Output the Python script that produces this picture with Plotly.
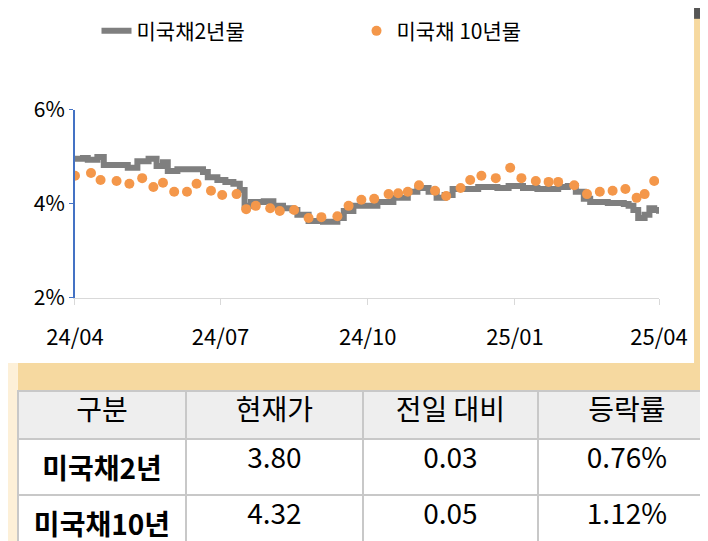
import plotly.graph_objects as go

# 미국채 2년물 (line)
y2_dates = ["2024-04-01", "2024-04-06", "2024-04-09", "2024-04-15", "2024-04-19", "2024-04-25",
            "2024-05-01", "2024-05-04", "2024-05-10", "2024-05-17", "2024-05-22", "2024-05-26",
            "2024-05-29", "2024-06-04", "2024-06-17", "2024-06-20", "2024-06-23", "2024-06-29",
            "2024-07-04", "2024-07-09", "2024-07-13", "2024-07-16", "2024-07-20", "2024-07-28",
            "2024-08-03", "2024-08-09", "2024-08-15", "2024-08-18", "2024-08-25", "2024-09-03",
            "2024-09-09", "2024-09-12", "2024-09-16", "2024-09-22", "2024-10-01", "2024-10-07",
            "2024-10-17", "2024-10-26", "2024-11-01", "2024-11-08", "2024-11-13", "2024-11-18",
            "2024-11-23", "2024-12-03", "2024-12-09", "2024-12-15", "2024-12-21", "2024-12-28",
            "2025-01-06", "2025-01-15", "2025-01-22", "2025-01-28", "2025-02-03", "2025-02-08",
            "2025-02-13", "2025-02-17", "2025-02-22", "2025-02-28", "2025-03-05", "2025-03-10",
            "2025-03-13", "2025-03-16", "2025-03-19", "2025-03-23", "2025-03-26", "2025-03-29",
            "2025-04-01"]
y2_vals = [4.96, 4.98, 4.94, 5.00, 4.83, 4.83, 4.83, 4.77, 4.91, 4.96, 4.81, 4.89,
           4.70, 4.74, 4.74, 4.68, 4.57, 4.51, 4.47, 4.43, 4.30, 3.96, 4.04, 4.06,
           3.96, 3.91, 3.87, 3.77, 3.64, 3.62, 3.62, 3.70, 3.85, 3.96, 3.96, 4.04,
           4.13, 4.26, 4.34, 4.26, 4.13, 4.19, 4.32, 4.32, 4.36, 4.36, 4.34, 4.38,
           4.34, 4.32, 4.32, 4.36, 4.38, 4.26, 4.11, 4.04, 4.04, 4.02, 4.02, 4.00,
           3.96, 3.87, 3.70, 3.77, 3.91, 3.87, 3.79]

# 미국채 10년물 (dots)
y10_dates = ["2024-04-01", "2024-04-11", "2024-04-17", "2024-04-27", "2024-05-05", "2024-05-13",
             "2024-05-20", "2024-05-26", "2024-06-02", "2024-06-10", "2024-06-16", "2024-06-25",
             "2024-07-02", "2024-07-11", "2024-07-17", "2024-07-23", "2024-08-01", "2024-08-07",
             "2024-08-16", "2024-08-25", "2024-09-02", "2024-09-12", "2024-09-19", "2024-09-27",
             "2024-10-05", "2024-10-14", "2024-10-20", "2024-10-26", "2024-11-02", "2024-11-12",
             "2024-11-19", "2024-11-28", "2024-12-04", "2024-12-11", "2024-12-20", "2024-12-29",
             "2025-01-05", "2025-01-14", "2025-01-22", "2025-01-28", "2025-02-07", "2025-02-15",
             "2025-02-23", "2025-03-03", "2025-03-11", "2025-03-18", "2025-03-23", "2025-03-29"]
y10_vals = [4.60, 4.66, 4.51, 4.49, 4.43, 4.55, 4.36, 4.45, 4.26, 4.26, 4.43, 4.28,
            4.19, 4.21, 3.89, 3.96, 3.91, 3.85, 3.87, 3.70, 3.72, 3.74, 3.96, 4.09,
            4.11, 4.21, 4.23, 4.26, 4.40, 4.28, 4.17, 4.34, 4.51, 4.60, 4.55, 4.77,
            4.55, 4.49, 4.47, 4.47, 4.40, 4.21, 4.26, 4.28, 4.32, 4.13, 4.21, 4.49]

tick_dates = ["2024-04-01", "2024-07-01", "2024-10-01", "2025-01-01", "2025-04-01"]
tick_labels = ["24/04", "24/07", "24/10", "25/01", "25/04"]

table_header = ["구분", "현재가", "전일 대비", "등락률"]
table_names = ["미국채2년", "미국채10년"]
table_price = ["3.80", "4.32"]
table_change = ["0.03", "0.05"]
table_rate = ["0.76%", "1.12%"]

FONT = "Noto Sans CJK KR"

fig = go.Figure()
fig.add_trace(go.Scatter(x=y2_dates, y=y2_vals, mode="lines", name="미국채2년물",
                         line=dict(color="#7f7f7f", width=6, shape="hv")))
fig.add_trace(go.Scatter(x=y10_dates, y=y10_vals, mode="markers", name="미국채 10년물",
                         marker=dict(color="#f4974a", size=10)))

fig.add_trace(go.Table(
    domain=dict(x=[0.014, 1], y=[0, 0.292]),
    columnwidth=[168, 177, 175, 178],
    header=dict(values=table_header, fill_color="#eeeeee", height=48,
                line=dict(color="#c8c8c8", width=2),
                font=dict(family=FONT, size=28, color="black"), align="center"),
    cells=dict(values=[["<b>%s</b>" % n for n in table_names], table_price, table_change, table_rate],
               fill_color="white", height=53, line=dict(color="#c8c8c8", width=2),
               font=dict(family=FONT, size=28, color="black"), align="center"),
))

# decorative frame
fig.add_shape(type="rect", xref="paper", yref="paper", x0=0.969, x1=1, y0=0.344, y1=1,
              fillcolor="#f6d9a0", line_width=0, layer="below")
fig.add_shape(type="rect", xref="paper", yref="paper", x0=0.969, x1=1, y0=0.98, y1=1,
              fillcolor="#555555", line_width=0)
fig.add_shape(type="rect", xref="paper", yref="paper", x0=0.014, x1=1, y0=0.292, y1=0.344,
              fillcolor="#f6d9a0", line_width=0, layer="below")
fig.add_shape(type="rect", xref="paper", yref="paper", x0=0, x1=0.014, y0=0, y1=0.344,
              fillcolor="#fdf0d8", line_width=0, layer="below")

fig.update_layout(
    width=708, height=541, margin=dict(l=0, r=0, t=0, b=0, autoexpand=False),
    paper_bgcolor="white", plot_bgcolor="white",
    font=dict(family=FONT, size=20, color="black"),
    showlegend=True,
    legend=dict(orientation="h", x=0.125, y=0.995, xanchor="left", yanchor="top",
                font=dict(size=21), entrywidth=215, entrywidthmode="pixels"),
    xaxis=dict(domain=[0.0946, 0.9195], range=["2024-04-01", "2025-04-01"],
               tickvals=tick_dates, ticktext=tick_labels, showgrid=False, automargin=False,
               showline=True, linecolor="#d9d9d9", linewidth=1,
               ticks="outside", ticklen=6, tickcolor="#d9d9d9",
               ticklabelstandoff=14, tickfont=dict(size=22)),
    yaxis=dict(domain=[0.464, 0.8115], range=[2, 6], tickvals=[2, 4, 6], automargin=False,
               ticktext=["2%", "4%", "6%"], showgrid=False, zeroline=False,
               showline=True, linecolor="#4472c4", linewidth=2,
               ticks="outside", ticklen=4, tickcolor="#4472c4",
               tickfont=dict(size=21)),
)

fig.write_html("out.html")
